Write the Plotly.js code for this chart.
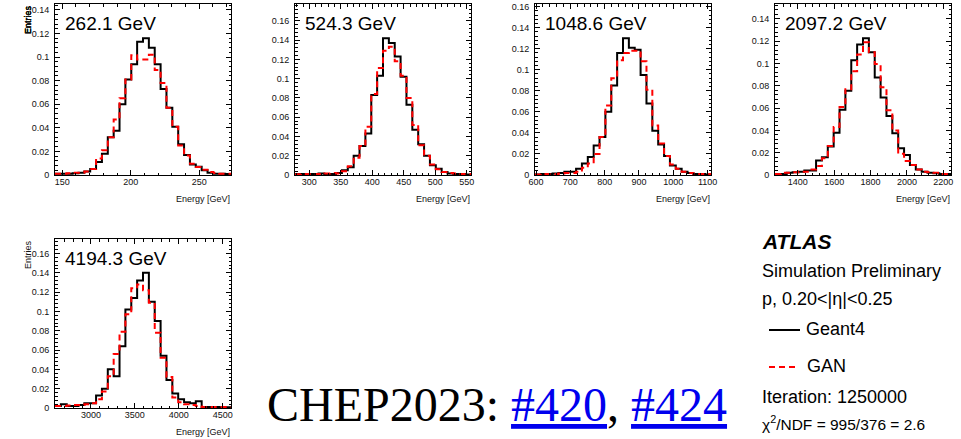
<!DOCTYPE html>
<html>
<head>
<meta charset="utf-8">
<script src="https://cdn.plot.ly/plotly-3.0.1.min.js"></script>
<style>
  html, body { margin: 0; padding: 0; background: #fff; }
  #chart { width: 961px; height: 439px; }
</style>
</head>
<body>
<div id="chart"></div>
<script>
// Total deposited energy for single protons, Geant4 vs GAN, five beam energies.
const W = 961, H = 439;

const energyLabels = ['262.1 GeV', '524.3 GeV', '1048.6 GeV', '2097.2 GeV', '4194.3 GeV'];

// Histogram limits in GeV; every histogram has 30 equal-width bins
const nBins = 30;
const histLow  = [144.7, 277.3, 597, 1275, 2591];
const histHigh = [273.2, 556.8, 1110, 2242, 4595];

// Normalised bin contents
const geant4_262 = [0.001,0.001,0.001,0.0015,0.002,0.003,0.005,0.011,0.018,0.032,0.0376,0.060,0.081,0.094,0.113,0.116,0.108,0.094,0.073,0.057,0.041,0.026,0.017,0.009,0.007,0.004,0.002,0.001,0.001,0.0008];
const gan_262    = [0.001,0.001,0.0015,0.002,0.002,0.003,0.005,0.014,0.021,0.032,0.047,0.065,0.081,0.1015,0.098,0.098,0.102,0.089,0.078,0.057,0.041,0.025,0.0166,0.0096,0.0068,0.0045,0.0025,0.0017,0.001,0.001];

const geant4_524 = [0.001,0.001,0.001,0.001,0.0015,0.001,0.001,0.002,0.005,0.008,0.020,0.030,0.043,0.083,0.103,0.142,0.137,0.123,0.102,0.073,0.047,0.032,0.020,0.010,0.0066,0.003,0.0015,0.001,0.001,0.0005];
const gan_524    = [0.0008,0.001,0.001,0.001,0.001,0.0015,0.002,0.0015,0.004,0.009,0.018,0.030,0.050,0.084,0.111,0.129,0.133,0.118,0.103,0.080,0.052,0.031,0.020,0.011,0.006,0.003,0.002,0.0015,0.001,0.001];

const geant4_1049 = [0.0005,0.001,0.001,0.0015,0.002,0.003,0.003,0.006,0.011,0.017,0.028,0.036,0.060,0.085,0.116,0.130,0.121,0.119,0.095,0.068,0.042,0.029,0.018,0.009,0.006,0.003,0.002,0.001,0.001,0.0005];
const gan_1049    = [0.0005,0.001,0.001,0.001,0.0015,0.002,0.002,0.003,0.007,0.011,0.020,0.036,0.066,0.092,0.109,0.116,0.118,0.118,0.108,0.081,0.047,0.030,0.018,0.010,0.006,0.003,0.002,0.001,0.001,0.001];

const geant4_2097 = [0.001,0.001,0.002,0.0025,0.003,0.004,0.004,0.013,0.016,0.0256,0.038,0.0586,0.0756,0.103,0.117,0.1227,0.110,0.0875,0.0696,0.053,0.0375,0.024,0.018,0.009,0.005,0.003,0.002,0.0015,0.001,0.001];
const gan_2097    = [0.001,0.002,0.002,0.0025,0.003,0.003,0.005,0.008,0.015,0.026,0.043,0.061,0.077,0.093,0.108,0.119,0.110,0.0995,0.0786,0.058,0.040,0.019,0.0125,0.009,0.005,0.003,0.0025,0.002,0.001,0.001];

const geant4_4194 = [0.002,0.004,0.002,0.002,0.003,0.005,0.005,0.013,0.020,0.040,0.033,0.064,0.102,0.114,0.132,0.140,0.110,0.090,0.054,0.029,0.015,0.009,0.006,0.005,0.007,0.001,0.001,0.001,0.0008,0.0008];
const gan_4194    = [0.002,0.002,0.0025,0.003,0.003,0.004,0.005,0.009,0.017,0.033,0.056,0.079,0.097,0.124,0.128,0.122,0.109,0.078,0.052,0.032,0.011,0.006,0.004,0.003,0.002,0.001,0.001,0.001,0.001,0.001];

const geant4Sets = [geant4_262, geant4_524, geant4_1049, geant4_2097, geant4_4194];
const ganSets    = [gan_262, gan_524, gan_1049, gan_2097, gan_4194];
const xMajor     = [50, 50, 100, 200, 500];

// Pad frames in pixels: [left, right, top, bottom]
const frames = [[55,231,4,175],[295,471,4,175],[535,711,4,175],[775,951,4,175],[55,231,239,408]];

const sans = 'Liberation Sans, Arial, Helvetica, sans-serif';
const px = x => x / W;
const py = y => 1 - y / H;

const data = [];
const layout = {
  width: W, height: H,
  margin: {l: 0, r: 0, t: 0, b: 0},
  paper_bgcolor: '#fff', plot_bgcolor: '#fff',
  showlegend: false,
  annotations: [], shapes: []
};

function stepTrace(lo, hi, vals, n, style) {
  const w = (hi - lo) / nBins;
  const xs = [], ys = [];
  for (let k = 0; k <= nBins; k++) {
    xs.push(lo + k * w);
    ys.push(vals[Math.min(k, nBins - 1)]);
  }
  return Object.assign({
    type: 'scatter', mode: 'lines', x: xs, y: ys,
    xaxis: 'x' + (n === 1 ? '' : n), yaxis: 'y' + (n === 1 ? '' : n),
    hoverinfo: 'skip'
  }, style);
}

for (let i = 0; i < 5; i++) {
  const n = i + 1;
  const [l, r, t, b] = frames[i];
  const ymax = 1.25 * Math.max(...geant4Sets[i]);

  data.push(stepTrace(histLow[i], histHigh[i], geant4Sets[i], n,
    {line: {color: '#000', width: 2, shape: 'hv'}}));
  data.push(stepTrace(histLow[i], histHigh[i], ganSets[i], n,
    {line: {color: '#ff0000', width: 2, shape: 'hv', dash: '6px,4px'}}));

  const common = {
    showline: true, linecolor: '#000', linewidth: 1, mirror: 'ticks',
    ticks: 'inside', ticklen: 5, tickwidth: 1, tickcolor: '#000',
    showgrid: false, zeroline: false, fixedrange: true,
    tickfont: {family: sans, size: 9, color: '#111'}
  };
  layout['xaxis' + (n === 1 ? '' : n)] = Object.assign({}, common, {
    domain: [px(l), px(r)], range: [histLow[i], histHigh[i]],
    anchor: 'y' + (n === 1 ? '' : n),
    tick0: 0, dtick: xMajor[i],
    minor: {dtick: xMajor[i] / 5, ticks: 'inside', ticklen: 2.5, tickcolor: '#000', showgrid: false},
    ticklabelstandoff: -2
  });
  layout['yaxis' + (n === 1 ? '' : n)] = Object.assign({}, common, {
    domain: [py(b), py(t)], range: [0, ymax],
    anchor: 'x' + (n === 1 ? '' : n),
    tick0: 0, dtick: 0.02,
    minor: {dtick: 0.004, ticks: 'inside', ticklen: 2.5, tickcolor: '#000', showgrid: false},
    ticklabelstandoff: 3
  });

  // energy label
  layout.annotations.push({
    xref: 'paper', yref: 'paper', x: px(l + 8), y: py(t + 19),
    xanchor: 'left', yanchor: 'middle', showarrow: false,
    text: energyLabels[i], font: {family: sans, size: 19, color: '#000'}
  });
  // axis titles
  layout.annotations.push({
    xref: 'paper', yref: 'paper', x: px(27.5), y: py(t + 15.5),
    xanchor: 'center', yanchor: 'middle', showarrow: false, textangle: -90,
    text: 'Entries', font: {family: sans, size: 9, color: '#111'}
  });
  layout.annotations.push({
    xref: 'paper', yref: 'paper', x: px(r + 1), y: py(b + 24),
    xanchor: 'right', yanchor: 'middle', showarrow: false,
    text: 'Energy [GeV]', font: {family: sans, size: 9, color: '#111'}
  });
}

// Legend block
const textItems = [
  {t: '<b><i>ATLAS</i></b>', x: 760, y: 241, s: 21},
  {t: 'Simulation Preliminary', x: 760, y: 271, s: 18},
  {t: 'p, 0.20<|η|<0.25', x: 760, y: 299, s: 18},
  {t: 'Geant4', x: 804, y: 329, s: 18},
  {t: 'GAN', x: 805, y: 366, s: 18},
  {t: 'Iteration: 1250000', x: 760, y: 397, s: 18},
  {t: 'χ<sup>2</sup>/NDF = 995/376 = 2.6', x: 760, y: 423, s: 15.5}
];
textItems.forEach(o => layout.annotations.push({
  xref: 'paper', yref: 'paper', x: px(o.x), y: py(o.y),
  xanchor: 'left', yanchor: 'middle', showarrow: false,
  text: o.t, font: {family: sans, size: o.s, color: '#000'}
}));
layout.shapes.push({type: 'line', xref: 'paper', yref: 'paper',
  x0: px(769), x1: px(800), y0: py(330), y1: py(330), line: {color: '#000', width: 2}});
layout.shapes.push({type: 'line', xref: 'paper', yref: 'paper',
  x0: px(769), x1: px(798), y0: py(367), y1: py(367), line: {color: '#ff0000', width: 2, dash: '6px,4px'}});

// Conference reference
layout.annotations.push({
  xref: 'paper', yref: 'paper', x: px(265), y: py(404),
  xanchor: 'left', yanchor: 'middle', showarrow: false,
  text: 'CHEP2023: <a href="#420" style="color:#0000ee"><u>#420</u></a>, <a href="#424" style="color:#0000ee"><u>#424</u></a>',
  font: {family: 'Liberation Serif, Times New Roman, serif', size: 48, color: '#000'}
});

Plotly.newPlot('chart', data, layout, {staticPlot: true, displayModeBar: false});
</script>
</body>
</html>
